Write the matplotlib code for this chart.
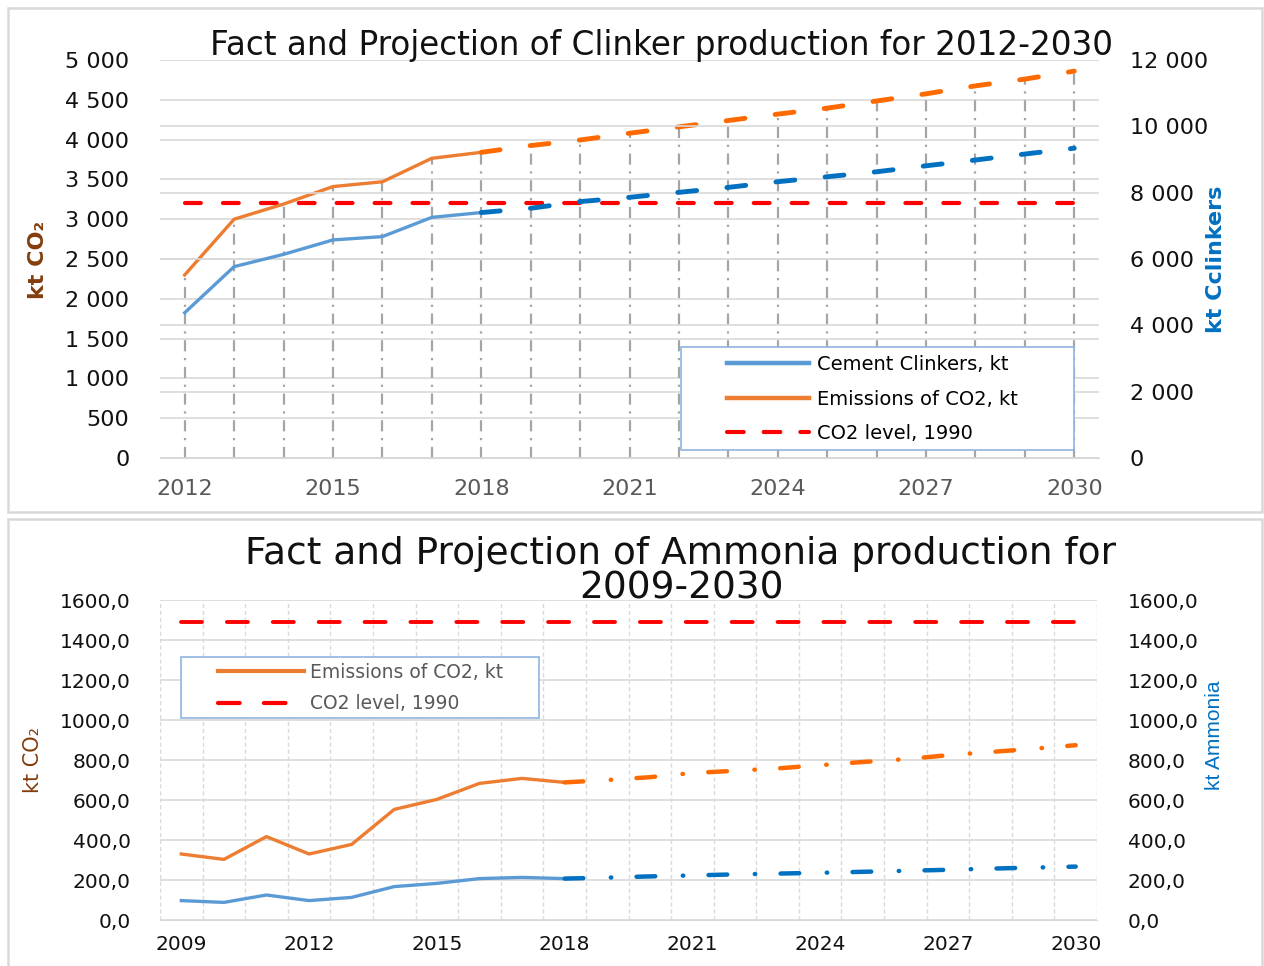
import numpy as np
import matplotlib
matplotlib.use("Agg")
import matplotlib.pyplot as plt
from matplotlib.patches import Rectangle
from matplotlib.lines import Line2D
from matplotlib.ticker import MultipleLocator, FuncFormatter

W, H = 1264, 966

# -------------------------------------------------
# Clinker data (kt)
# -------------------------------------------------

CLK_YEARS_FACT = np.arange(2012, 2019)
CLK_YEARS_PROJ = np.arange(2018, 2031)
CO2_CLK_FACT = [2300, 3000, 3190, 3410, 3470, 3765, 3840]
CO2_CLK_PROJ = [3840, 3925, 3995, 4080, 4160, 4240, 4320, 4395, 4485, 4575, 4675, 4760, 4860]
CLINKER_FACT = [4380, 5770, 6140, 6575, 6675, 7255, 7400]
CLINKER_PROJ = [7400, 7530, 7730, 7860, 8010, 8160, 8330, 8480, 8630, 8810, 8985, 9165, 9340]
CO2_1990_CLK = 3200

# -------------------------------------------------
# Ammonia data (kt)
# -------------------------------------------------

AMM_YEARS_FACT = np.arange(2009, 2019)
AMM_YEARS_PROJ = np.arange(2018, 2031)
CO2_AMM_FACT = [330, 303, 417, 330, 378, 553, 603, 683, 708, 688]
CO2_AMM_PROJ = [688, 700, 714, 735, 746, 758, 774, 790, 804, 824, 840, 856, 874]
AMMONIA_FACT = [97, 88, 125, 97, 113, 167, 183, 207, 213, 207]
AMMONIA_PROJ = [207, 212, 218, 223, 228, 232, 236, 241, 246, 251, 257, 262, 267]
CO2_1990_AMM = 1490

ORANGE = "#ED7D31"
ORANGE_P = "#FF6A00"
BLUE = "#5B9BD5"
BLUE_P = "#0070C0"
RED = "#FF0000"
BROWN = "#843C0C"
GRID = "#D9D9D9"
LEG_EDGE = "#8DB4E2"

FONT = ["DejaVu Sans"]
plt.rcParams["font.family"] = FONT


def fx(px):
    return px / W


def fy(py):
    return 1 - py / H


fig = plt.figure(figsize=(W / 100, H / 100), dpi=100)

# panel frames
fig.add_artist(Rectangle((fx(8), fy(512)), fx(1254), 504 / H, transform=fig.transFigure,
                         fill=False, ec=GRID, lw=1.8))
fig.add_artist(Rectangle((fx(8), fy(990)), fx(1254), 471 / H, transform=fig.transFigure,
                         fill=False, ec=GRID, lw=1.8))


# -------------------------------------------------
# Top chart: clinker
# -------------------------------------------------

ax = fig.add_axes([fx(160), fy(458), 939 / W, 398 / H])
ax2 = ax.twinx()

ax.set_xlim(2011.5, 2030.5)
ax.set_ylim(0, 5000)
ax2.set_ylim(0, 12000)

ax.yaxis.set_major_locator(MultipleLocator(500))
ax2.yaxis.set_major_locator(MultipleLocator(2000))
ax.set_xticks(np.arange(2012, 2031, 3))

space_fmt = FuncFormatter(lambda v, p: f"{int(v):,}".replace(",", " "))
ax.yaxis.set_major_formatter(space_fmt)
ax2.yaxis.set_major_formatter(space_fmt)

ax.grid(axis="y", color=GRID, lw=1.2)
ax2.grid(axis="y", color=GRID, lw=1.2)
ax.set_axisbelow(True)
ax2.set_axisbelow(True)

for a in (ax, ax2):
    for s in a.spines.values():
        s.set_visible(False)
    a.tick_params(length=0)
ax.spines["bottom"].set_visible(True)
ax.spines["bottom"].set_color(GRID)

ax.tick_params(axis="y", labelsize=16, pad=22, labelcolor="#111111")
ax2.tick_params(axis="y", labelsize=16, pad=22, labelcolor="#111111")
ax.tick_params(axis="x", labelsize=16, pad=15, labelcolor="#595959")

# drop lines from CO2 series
all_years = np.concatenate([CLK_YEARS_FACT, CLK_YEARS_PROJ[1:]])
all_co2 = CO2_CLK_FACT + CO2_CLK_PROJ[1:]
ax.vlines(all_years, 0, all_co2, colors="#A5A5A5", lw=1.6,
          linestyles=[(0, (5, 3, 1, 3))], zorder=1)

ax.plot([CLK_YEARS_FACT[0], CLK_YEARS_PROJ[-1]], [CO2_1990_CLK] * 2, color=RED, lw=3,
        dashes=(3.8, 5.3), dash_capstyle="round", zorder=3)
ax.plot(CLK_YEARS_FACT, CO2_CLK_FACT, color=ORANGE, lw=2.4, zorder=4)
ax.plot(CLK_YEARS_PROJ, CO2_CLK_PROJ, color=ORANGE_P, lw=3.5,
        dashes=(3.9, 6.26), dash_capstyle="round", zorder=4)

ax2.plot(CLK_YEARS_FACT, CLINKER_FACT, color=BLUE, lw=2.4, zorder=4)
ax2.plot(CLK_YEARS_PROJ, CLINKER_PROJ, color=BLUE_P, lw=3.5,
         dashes=(3.9, 6.26), dash_capstyle="round", zorder=4)

fig.text(fx(662), fy(46), "Fact and Projection of Clinker production for 2012-2030",
         ha="center", va="center", fontsize=23.5, color="#111111")
fig.text(fx(38), fy(260), "kt CO₂", rotation=90, ha="center", va="center",
         fontsize=16, fontweight="bold", color=BROWN)
fig.text(fx(1216), fy(259), "kt Cclinkers", rotation=90, ha="center", va="center",
         fontsize=16, fontweight="bold", color=BLUE_P)

# legend (white box on top of drop lines)
ax2.add_patch(Rectangle((fx(681), fy(450)), 393 / W, 103 / H, transform=fig.transFigure,
                        fc="white", ec=LEG_EDGE, lw=1.2, zorder=8))
handles = [
    Line2D([], [], color=BLUE, lw=3.2),
    Line2D([], [], color=ORANGE, lw=3.2),
    Line2D([], [], color=RED, lw=3, dashes=(4.0, 4.8), dash_capstyle="round"),
]
labels = ["Cement Clinkers, kt", "Emissions of CO2, kt", "CO2 level, 1990"]
leg = ax2.legend(handles, labels, loc="upper left", bbox_to_anchor=(fx(727), fy(355)),
                 bbox_transform=fig.transFigure, frameon=False, borderpad=0, borderaxespad=0,
                 handlelength=4.2, handletextpad=0.45, labelspacing=0.8,
                 prop={"size": 14})
leg.set_zorder(9)


# -------------------------------------------------
# Bottom chart: ammonia
# -------------------------------------------------

bx = fig.add_axes([fx(160), fy(920), 937 / W, 320 / H])
bx2 = bx.twinx()

bx.set_xlim(2008.5, 2030.5)
bx.set_ylim(0, 1600)
bx2.set_ylim(0, 1600)
bx.yaxis.set_major_locator(MultipleLocator(200))
bx2.yaxis.set_major_locator(MultipleLocator(200))
bx.set_xticks(np.arange(2009, 2031, 3))
bx.set_xticks(np.arange(2008.5, 2031, 1), minor=True)

comma_fmt = FuncFormatter(lambda v, p: f"{v:.1f}".replace(".", ","))
bx.yaxis.set_major_formatter(comma_fmt)
bx2.yaxis.set_major_formatter(comma_fmt)

bx.grid(axis="y", which="major", color=GRID, lw=1.2)
bx.grid(axis="x", which="minor", color=GRID, lw=1, ls=(0, (3, 2)))
bx.set_axisbelow(True)

for a in (bx, bx2):
    for s in a.spines.values():
        s.set_visible(False)
    a.tick_params(which="both", length=0)
bx.spines["bottom"].set_visible(True)
bx.spines["bottom"].set_color(GRID)

bx.tick_params(axis="y", labelsize=14.5, pad=21, labelcolor="#111111")
bx2.tick_params(axis="y", labelsize=14.5, pad=22, labelcolor="#111111")
bx.tick_params(axis="x", labelsize=14.5, pad=11, labelcolor="#111111")

proj_dash = (4.2, 6.2, 0.1, 5.7)
bx.plot([AMM_YEARS_FACT[0], AMM_YEARS_PROJ[-1]], [CO2_1990_AMM] * 2, color=RED, lw=2.8,
        dashes=(5.4, 6.4), dash_capstyle="round", zorder=3)
bx.plot(AMM_YEARS_FACT, CO2_AMM_FACT, color=ORANGE, lw=2.4, zorder=4)
bx.plot(AMM_YEARS_PROJ, CO2_AMM_PROJ, color=ORANGE_P, lw=3.2,
        dashes=proj_dash, dash_capstyle="round", zorder=4)
bx2.plot(AMM_YEARS_FACT, AMMONIA_FACT, color=BLUE, lw=2.4, zorder=4)
bx2.plot(AMM_YEARS_PROJ, AMMONIA_PROJ, color=BLUE_P, lw=3.2,
         dashes=proj_dash, dash_capstyle="round", zorder=4)

fig.text(fx(681), fy(571), "Fact and Projection of Ammonia production for\n2009-2030",
         ha="center", va="center", fontsize=27, color="#111111", linespacing=0.95)
fig.text(fx(33), fy(760), "kt CO₂", rotation=90, ha="center", va="center",
         fontsize=15, color=BROWN)
fig.text(fx(1215), fy(735), "kt Ammonia", rotation=90, ha="center", va="center",
         fontsize=15, color=BLUE_P, family=["Liberation Sans"])

bx2.add_patch(Rectangle((fx(181), fy(718)), 358 / W, 61 / H, transform=fig.transFigure,
                        fc="white", ec=LEG_EDGE, lw=1.2, zorder=8))
bhandles = [
    Line2D([], [], color=ORANGE, lw=3),
    Line2D([], [], color=RED, lw=3, dashes=(5.2, 5.8), dash_capstyle="round"),
]
blabels = ["Emissions of CO2, kt", "CO2 level, 1990"]
bleg = bx2.legend(bhandles, blabels, loc="upper left", bbox_to_anchor=(fx(218), fy(663)),
                  bbox_transform=fig.transFigure, frameon=False, borderpad=0, borderaxespad=0,
                  handlelength=4.6, handletextpad=0.3, labelspacing=0.65,
                  labelcolor="#595959", prop={"size": 13.5})
bleg.set_zorder(9)

fig.savefig("out.png", dpi=100)
